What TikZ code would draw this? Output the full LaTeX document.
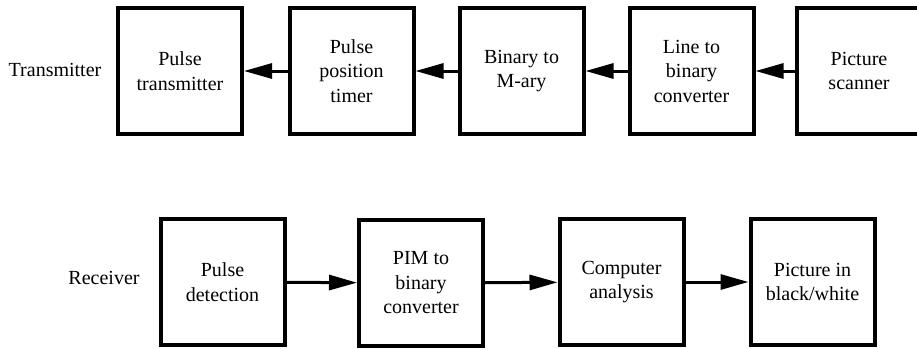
\documentclass[tikz,border=0pt]{standalone}
\usepackage{fontspec}
\setmainfont{Liberation Serif}
\usetikzlibrary{arrows.meta}

\begin{document}
\begin{tikzpicture}[x=1pt, y=-1pt, >={Triangle[length=28pt,width=15pt]},
    every node/.style={font=\rmfamily\fontsize{20}{24.5}\selectfont, text=black},
    blockbox/.style={draw, line width=4pt, minimum width=124pt, minimum height=126pt, align=center, inner sep=0pt},
    sigline/.style={->, line width=3pt}]
        \useasboundingbox (0,0) rectangle (917,348);

        % Transmitter
        \node (txlabel) at (55, 70) {Transmitter};
        \node[blockbox] (ptx)  at (180, 71)   {Pulse\\transmitter};
        \node[blockbox] (ppt)  at (351.5, 71) {Pulse\\position\\timer};
        \node[blockbox] (bma)  at (521.5, 71) {Binary to\\M-ary};
        \node[blockbox] (lbc)  at (691.5, 71) {Line to\\binary\\converter};
        \node[blockbox] (psc)  at (859, 71)   {Picture\\scanner};

        \draw[sigline] (psc) -- (lbc);
        \draw[sigline] (lbc) -- (bma);
        \draw[sigline] (bma) -- (ppt);
        \draw[sigline] (ppt) -- (ptx);

        % Receiver
        \node (rxlabel) at (104, 278) {Receiver};
        \node[blockbox] (pdet) at (222.5, 282) {Pulse\\detection};
        \node[blockbox] (pim)  at (421, 283)   {PIM to\\binary\\converter};
        \node[blockbox] (comp) at (621.5, 282) {Computer\\analysis};
        \node[blockbox] (pbw)  at (812.5, 282) {Picture in\\black/white};

        \draw[sigline] (pdet) -- (pim);
        \draw[sigline] (pim) -- (comp);
        \draw[sigline] (comp) -- (pbw);
    \end{tikzpicture}
\end{document}
